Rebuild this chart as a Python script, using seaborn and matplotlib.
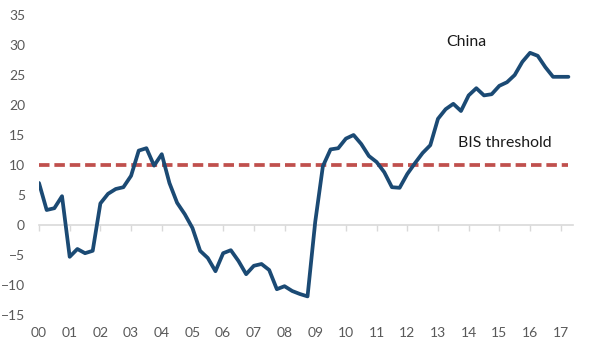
import matplotlib.pyplot as plt
import pandas as pd
import seaborn as sns

# quarterly credit-to-GDP gap, 2000Q1 .. 2017Q2
QUARTERS = pd.period_range("2000Q1", "2017Q2", freq="Q")
CHINA_GAP = [
    7.0, 2.5, 2.8, 4.8,          # 2000
    -5.3, -4.0, -4.7, -4.3,      # 2001
    3.6, 5.2, 6.0, 6.3,          # 2002
    8.2, 12.4, 12.8, 9.9,        # 2003
    11.8, 7.0, 3.7, 1.8,         # 2004
    -0.5, -4.3, -5.5, -7.7,      # 2005
    -4.7, -4.2, -6.0, -8.2,      # 2006
    -6.8, -6.5, -7.5, -10.7,     # 2007
    -10.2, -11.0, -11.5, -11.9,  # 2008
    0.5, 9.8, 12.6, 12.8,        # 2009
    14.4, 15.0, 13.5, 11.5,      # 2010
    10.5, 8.8, 6.3, 6.2,         # 2011
    8.5, 10.3, 12.0, 13.3,       # 2012
    17.7, 19.3, 20.2, 19.0,      # 2013
    21.6, 22.8, 21.6, 21.8,      # 2014
    23.2, 23.8, 25.0, 27.2,      # 2015
    28.7, 28.2, 26.3, 24.7,      # 2016
    24.7, 24.7,                  # 2017
]
BIS_THRESHOLD = 10
YEARS = list(range(2000, 2018))
YEAR_LABELS = [f"{y % 100:02d}" for y in YEARS]
Y_TICKS = [-15, -10, -5, 0, 5, 10, 15, 20, 25, 30, 35]

BLUE = "#1B4A74"
RED = "#C0504D"
GREY_TXT = "#595959"

df = pd.DataFrame({
    "t": [p.year + (p.quarter - 1) / 4 for p in QUARTERS],
    "gap": CHINA_GAP,
    "threshold": [BIS_THRESHOLD] * len(QUARTERS),
})

sns.set_theme(style="white")
plt.rcParams["font.family"] = ["Lato", "DejaVu Sans"]

fig = plt.figure(figsize=(6.0, 3.55), dpi=100)
ax = fig.add_axes([0.065, 0.1127, 0.89, 0.845])

sns.lineplot(data=df, x="t", y="threshold", ax=ax, color=RED,
             linewidth=2.7, linestyle=(0, (2.8, 1.3)))
sns.lineplot(data=df, x="t", y="gap", ax=ax, color=BLUE, linewidth=2.7)

ax.set_xlim(2000, 2017.4)
ax.set_ylim(-15, 35)
ax.set_xticks(YEARS)
ax.set_xticklabels(YEAR_LABELS)
ax.set_yticks(Y_TICKS)
ax.set_xlabel("")
ax.set_ylabel("")
ax.tick_params(axis="both", length=0, labelsize=10, colors=GREY_TXT)
ax.tick_params(axis="x", pad=9)
ax.tick_params(axis="y", pad=10)
for s in ax.spines.values():
    s.set_visible(False)

# zero line with year tick marks
zero_ax = ax.secondary_xaxis((0 - (-15)) / 50)
zero_ax.set_xticks(YEARS)
zero_ax.set_xticklabels([])
zero_ax.spines["bottom"].set_color("#D9D9D9")
zero_ax.spines["bottom"].set_linewidth(1.2)
zero_ax.tick_params(axis="x", length=4, width=1, color="#D9D9D9", direction="out")

ax.text(2013.28, 30.5, "China", fontsize=11.4, color="#1a1a1a", va="center")
ax.text(2013.64, 13.7, "BIS threshold", fontsize=11.4, color="#1a1a1a", va="center")

fig.savefig("out.png", dpi=100, facecolor="white")
